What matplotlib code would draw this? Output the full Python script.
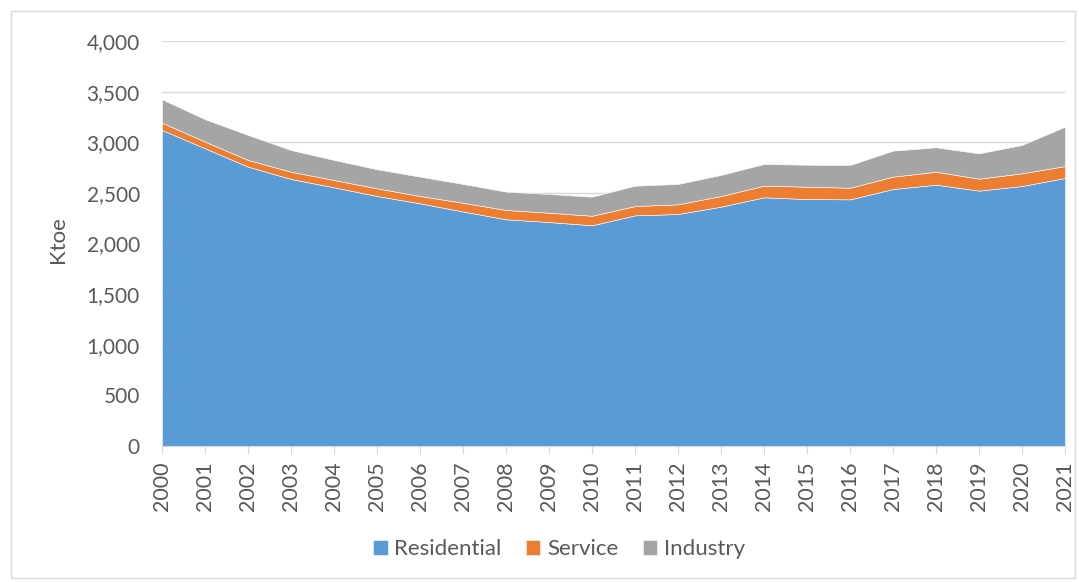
import matplotlib; matplotlib.use("Agg")
import matplotlib.pyplot as plt
from matplotlib.patches import Rectangle
from matplotlib.ticker import FuncFormatter
import numpy as np

plt.rcParams["font.family"] = ["Lato", "DejaVu Sans"]

years = list(range(2000, 2022))
residential = [3121, 2940, 2759, 2637, 2555, 2469, 2397, 2316, 2239, 2212, 2180,
               2278, 2291, 2364, 2456, 2439, 2436, 2538, 2581, 2522, 2568, 2647]
service = [72, 66, 66, 72, 72, 76, 72, 86, 92, 92, 94,
           92, 96, 105, 115, 122, 115, 122, 128, 118, 125, 118]
industry = [231, 221, 247, 214, 198, 188, 191, 186, 181, 185, 188,
            201, 201, 208, 214, 217, 224, 257, 241, 250, 280, 389]
labels = ["Residential", "Service", "Industry"]
colors = ["#5B9BD5", "#ED7D31", "#A5A5A5"]

W, H = 1079, 582
fig = plt.figure(figsize=(W/100, H/100), dpi=100)
ax = fig.add_axes([162/W, 1-446/H, (1065-162)/W, (446-41)/H])

x = np.arange(len(years))
ax.stackplot(x, residential, service, industry, colors=colors, labels=labels,
             edgecolor="white", linewidth=0.4, zorder=2)

ax.set_xlim(0, len(years)-1)
ax.set_ylim(0, 4000)
ax.set_yticks(range(0, 4001, 500))
ax.yaxis.set_major_formatter(FuncFormatter(lambda v, p: f"{int(v):,}"))
ax.set_xticks(x)
ax.set_xticklabels([str(y) for y in years], rotation=90)
ax.grid(axis="y", color="#D9D9D9", linewidth=1, zorder=0)
ax.set_axisbelow(True)
for s in ["top", "right", "left"]:
    ax.spines[s].set_visible(False)
ax.spines["bottom"].set_color("#D9D9D9")
ax.tick_params(axis="y", length=0, labelsize=15, labelcolor="#595959", pad=16)
ax.tick_params(axis="x", length=6, color="#D9D9D9", labelsize=15.5, labelcolor="#595959", pad=5)
ax.set_ylabel("Ktoe", fontsize=16, color="#595959")
ax.yaxis.set_label_coords((68-162)/(1065-162), (446-240)/(446-41))

leg = fig.legend(*ax.get_legend_handles_labels(), loc="center", bbox_to_anchor=(559/W, 1-549/H),
                 ncol=3, frameon=False, fontsize=16, handlelength=0.65, handleheight=0.65,
                 handletextpad=0.3, columnspacing=1.1)
for t in leg.get_texts():
    t.set_color("#595959")

fig.patches.append(Rectangle((11/W, 4/H), (1075-11)/W, (571-4)/H, transform=fig.transFigure,
                             fill=False, edgecolor="#D9D9D9", linewidth=1))

fig.savefig("out.png", dpi=100)
